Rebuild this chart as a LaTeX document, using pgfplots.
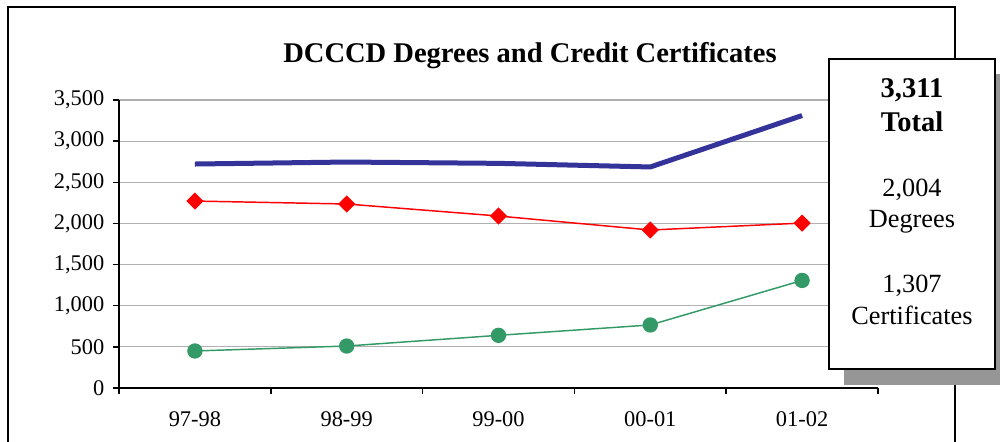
\documentclass[border=0pt]{standalone}
\usepackage{fontspec}
\setmainfont{Liberation Serif}
\usepackage{pgfplots}
\pgfplotsset{compat=1.18}
\definecolor{navyline}{HTML}{333399}
\definecolor{greenline}{HTML}{339966}
\definecolor{gridgray}{HTML}{B0B0B0}
\definecolor{shadowgray}{HTML}{969696}
\begin{document}
\begin{tikzpicture}[x=0.75pt,y=0.75pt]
\useasboundingbox (0,0) rectangle (1000,442);
\clip (0,0) rectangle (1000,442);
% outer frame
\draw[line width=1.3pt] (8,435) rectangle (955,-20);
% title
\node[anchor=base, inner sep=0pt, font=\fontsize{21.4}{24}\selectfont\bfseries] at (530,379) {DCCCD Degrees and Credit Certificates};
\begin{axis}[
  at={(89.25pt,40.5pt)}, anchor=south west,
  scale only axis, width=569.25pt, height=216pt,
  xmin=0, xmax=5, ymin=0, ymax=3500,
  axis x line*=bottom, axis y line*=left,
  axis line style={line width=1.3pt, black},
  xtick={0.5,1.5,2.5,3.5,4.5},
  xticklabels={97-98,98-99,99-00,00-01,01-02},
  minor xtick={0,1,2,3,4,5},
  major x tick style={draw=none},
  minor x tick style={black, line width=1.1pt},
  y tick style={black, line width=1.1pt},
  ytick={0,500,...,3500},
  tick align=outside,
  major tick length=4.5pt, minor tick length=4.5pt,
  ymajorgrids,
  grid style={gridgray, line width=0.8pt},
  scaled y ticks=false,
  /pgf/number format/assume math mode=true,
  /pgf/number format/1000 sep={,},
  ticklabel style={font=\fontsize{16.8}{18}\selectfont},
  xticklabel style={yshift=-10pt},
  yticklabel style={xshift=-3pt},
  clip=false,
]
\addplot[navyline, line width=3.75pt, no markers] coordinates {
  (0.5,2722) (1.5,2746) (2.5,2730) (3.5,2686) (4.5,3311)};
\addplot[red, line width=1.1pt, mark=square*, mark size=4pt,
  mark options={rotate=45, solid, fill=red, draw=red}] coordinates {
  (0.5,2272) (1.5,2236) (2.5,2090) (3.5,1920) (4.5,2004)};
\addplot[greenline, line width=1.1pt, mark=*, mark size=5.2pt,
  mark options={solid, fill=greenline, draw=greenline}] coordinates {
  (0.5,450) (1.5,510) (2.5,640) (3.5,766) (4.5,1307)};
\end{axis}
% text box with shadow
\fill[shadowgray] (844,57) rectangle (1010,368);
\draw[line width=1.5pt, fill=white] (829,73) rectangle (995,383);
\node[anchor=base, inner sep=0pt, font=\fontsize{21.4}{24}\selectfont\bfseries] at (912,344) {3,311};
\node[anchor=base, inner sep=0pt, font=\fontsize{21.4}{24}\selectfont\bfseries] at (912,310) {Total};
\node[anchor=base, inner sep=0pt, font=\fontsize{19.7}{22}\selectfont] at (912,245) {2,004};
\node[anchor=base, inner sep=0pt, font=\fontsize{19.7}{22}\selectfont] at (912,214) {Degrees};
\node[anchor=base, inner sep=0pt, font=\fontsize{19.7}{22}\selectfont] at (912,149) {1,307};
\node[anchor=base, inner sep=0pt, font=\fontsize{19.7}{22}\selectfont] at (912,117) {Certificates};
\end{tikzpicture}
\end{document}
